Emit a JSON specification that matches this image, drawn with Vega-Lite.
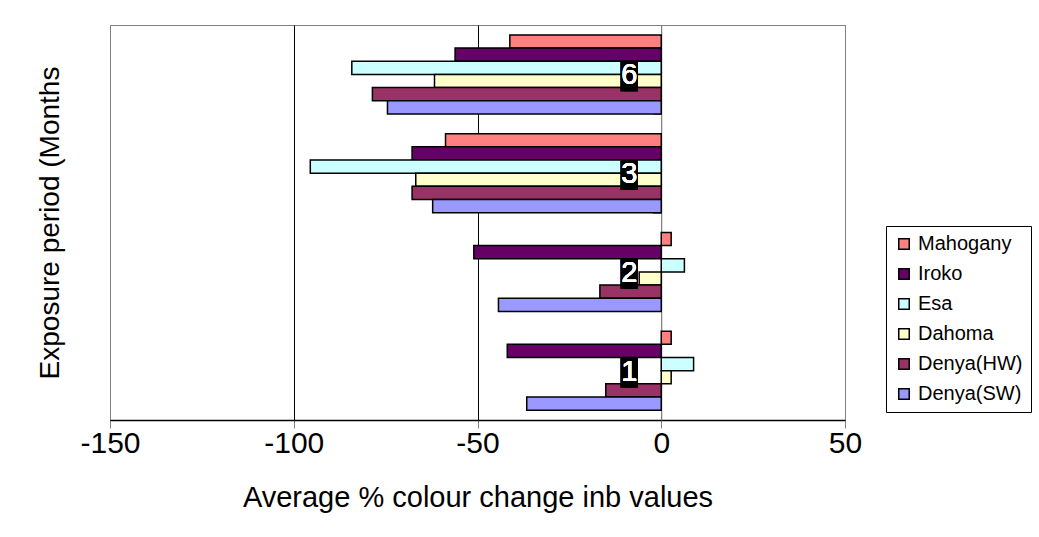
{
  "$schema": "https://vega.github.io/schema/vega-lite/v6.json",
  "autosize": {"type": "none"},
  "width": 735,
  "height": 395,
  "padding": {"left": 110, "top": 25, "right": 194, "bottom": 117},
  "background": "white",
  "config": {
    "font": "Liberation Sans",
    "view": {"stroke": "#808080", "strokeWidth": 1}
  },
  "data": {
    "values": [
      {"period": "6", "species": "Mahogany", "value": -41.2},
      {"period": "6", "species": "Iroko", "value": -56.1},
      {"period": "6", "species": "Esa", "value": -84.2},
      {"period": "6", "species": "Dahoma", "value": -61.7},
      {"period": "6", "species": "Denya(HW)", "value": -78.6},
      {"period": "6", "species": "Denya(SW)", "value": -74.5},
      {"period": "3", "species": "Mahogany", "value": -58.7},
      {"period": "3", "species": "Iroko", "value": -67.8},
      {"period": "3", "species": "Esa", "value": -95.5},
      {"period": "3", "species": "Dahoma", "value": -66.8},
      {"period": "3", "species": "Denya(HW)", "value": -67.8},
      {"period": "3", "species": "Denya(SW)", "value": -62.2},
      {"period": "2", "species": "Mahogany", "value": 2.7},
      {"period": "2", "species": "Iroko", "value": -51.0},
      {"period": "2", "species": "Esa", "value": 6.3},
      {"period": "2", "species": "Dahoma", "value": -6.0},
      {"period": "2", "species": "Denya(HW)", "value": -16.7},
      {"period": "2", "species": "Denya(SW)", "value": -44.3},
      {"period": "1", "species": "Mahogany", "value": 2.7},
      {"period": "1", "species": "Iroko", "value": -41.9},
      {"period": "1", "species": "Esa", "value": 8.8},
      {"period": "1", "species": "Dahoma", "value": 2.7},
      {"period": "1", "species": "Denya(HW)", "value": -15.1},
      {"period": "1", "species": "Denya(SW)", "value": -36.6}
    ]
  },
  "encoding": {
    "y": {
      "field": "period",
      "type": "nominal",
      "sort": ["6", "3", "2", "1"],
      "scale": {"paddingInner": 0.2, "paddingOuter": 0.1},
      "axis": {
        "offset": -551.25,
        "tickBand": "extent",
        "labels": false,
        "domainColor": "#808080",
        "tickColor": "#808080",
        "tickSize": 9,
        "title": "Exposure period (Months",
        "titleFont": "Liberation Sans",
        "titleFontSize": 28,
        "titleFontWeight": "normal",
        "titleColor": "black",
        "titleAngle": -90,
        "titleX": -603,
        "titleY": 197.5,
        "titleAlign": "center",
        "titleBaseline": "alphabetic"
      }
    }
  },
  "layer": [
    {
      "mark": {"type": "bar", "stroke": "black", "strokeWidth": 1.5},
      "encoding": {
        "x": {
          "field": "value",
          "type": "quantitative",
          "scale": {"domain": [-150, 50], "nice": false},
          "axis": {
            "values": [-150, -100, -50, 0, 50],
            "labelExpr": "replace(datum.label, '\u2212', '-')",
            "labelFlush": false,
            "labelOverlap": false,
            "grid": true,
            "gridColor": {"condition": {"test": "datum.value === -150 || datum.value === 50 || datum.value === 0", "value": "#808080"}, "value": "black"},
            "gridWidth": 1,
            "domainColor": "black",
            "domainWidth": 1.5,
            "tickColor": "#808080",
            "tickSize": 8,
            "labelFont": "Liberation Sans",
            "labelFontSize": 30,
            "labelColor": "black",
            "labelPadding": 0,
            "title": "Average % colour change inb values",
            "titleFont": "Liberation Sans",
            "titleFontSize": 29,
            "titleFontWeight": "normal",
            "titleColor": "black",
            "titlePadding": 25
          }
        },
        "yOffset": {
          "field": "species",
          "type": "nominal",
          "sort": ["Mahogany", "Iroko", "Esa", "Dahoma", "Denya(HW)", "Denya(SW)"],
          "scale": {"paddingInner": 0, "paddingOuter": 0}
        },
        "color": {
          "field": "species",
          "type": "nominal",
          "scale": {
            "domain": ["Mahogany", "Iroko", "Esa", "Dahoma", "Denya(HW)", "Denya(SW)"],
            "range": ["#FF8080", "#660066", "#CCFFFF", "#FFFFCC", "#993366", "#9999FF"]
          },
          "legend": {
            "title": null,
            "orient": "none",
            "legendX": 776,
            "legendY": 201,
            "strokeColor": "black",
            "fillColor": "white",
            "padding": 8,
            "symbolType": "square",
            "symbolSize": 110,
            "symbolStrokeColor": "black",
            "symbolStrokeWidth": 1.5,
            "symbolOpacity": 1,
            "labelFont": "Liberation Sans",
            "labelFontSize": 20,
            "labelColor": "black",
            "labelLimit": 300,
            "rowPadding": 10
          }
        }
      }
    },
    {
      "mark": {
        "type": "point",
        "shape": "M-4.05,-1.25H-2.35V1.68H-4.05Z",
        "size": 400,
        "filled": true,
        "fill": "black",
        "strokeWidth": 0,
        "opacity": 1
      },
      "encoding": {
        "x": {"datum": 0, "type": "quantitative"}
      }
    },
    {
      "mark": {
        "type": "text",
        "color": "white",
        "font": "Liberation Sans",
        "fontSize": 29,
        "align": "center",
        "baseline": "middle",
        "dx": -32,
        "dy": 1
      },
      "encoding": {
        "x": {"datum": 0, "type": "quantitative"},
        "text": {"field": "period", "type": "nominal"}
      }
    }
  ]
}
